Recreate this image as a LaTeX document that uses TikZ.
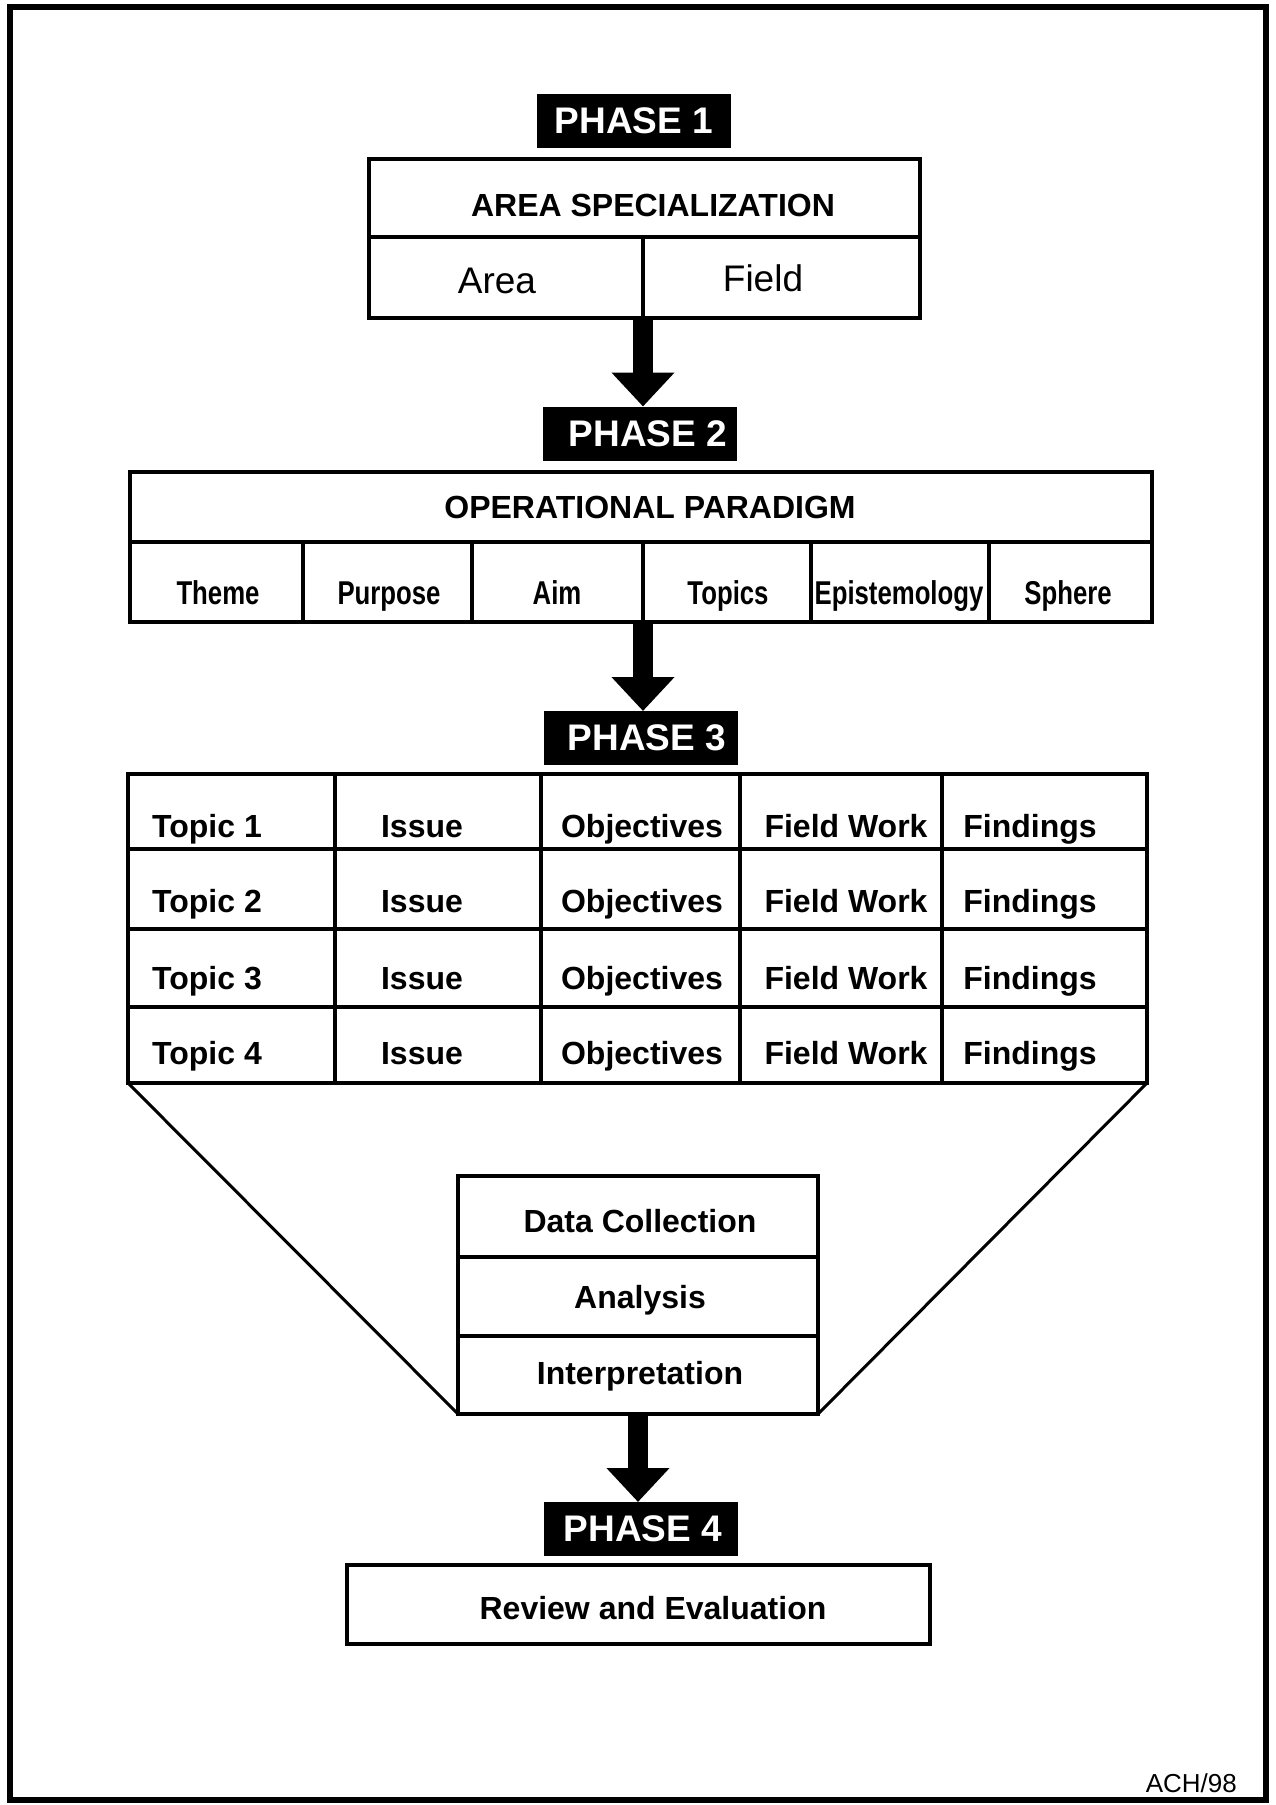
\documentclass[tikz,border=0pt]{standalone}
\usepackage{fontspec}
\setmainfont{Liberation Sans}
\newfontfamily\condbf{Liberation Sans Bold}[FakeStretch=0.78]
\usetikzlibrary{arrows.meta}

\tikzset{
  box/.style={draw, line width=3.5pt, rectangle, inner sep=0pt, outer sep=0pt},
  phase/.style={fill=black, text=white, inner sep=0pt, outer sep=0pt,
    minimum width=194pt, minimum height=54pt,
    font=\bfseries\fontsize{37}{41}\selectfont},
  title/.style={inner sep=0pt, font=\bfseries\fontsize{32}{38}\selectfont},
  plain/.style={inner sep=0pt, anchor=base, font=\fontsize{37}{42}\selectfont},
  narrowtext/.style={inner sep=0pt, anchor=base, font=\condbf\fontsize{33}{38}\selectfont},
  tabtext/.style={inner sep=0pt, anchor=base, font=\bfseries\fontsize{32}{37}\selectfont},
  bigarrow/.style={line width=20pt, -{Triangle[width=61pt,length=34pt]}},
  funnel/.style={line width=3pt, line join=miter},
}

\begin{document}
\begin{tikzpicture}[x=1pt,y=-1pt]
\useasboundingbox (0,0) rectangle (1276,1805);

% outer frame
\draw[line width=6pt] (10,7) rectangle (1266,1800);

% ---------- Phase 1 ----------
\node[phase] (phase1) at (634,121) {PHASE 1};
\node[box, minimum width=551pt, minimum height=78pt] (areaspec) at (644.5,198) {};
\node[title] (areaspec-t) at (653,205) {AREA SPECIALIZATION};
\node[box, minimum width=274pt, minimum height=81pt] (area) at (506,277.5) {};
\node[box, minimum width=277pt, minimum height=81pt] (field) at (781.5,277.5) {};
\node[plain] (area-t) at (497,293) {Area};
\node[plain] (field-t) at (763,291) {Field};

% ---------- Phase 2 ----------
\node[phase] (phase2) at (640,433.5) {\hspace*{16pt}PHASE 2};
\draw[bigarrow] (area.south east) -- (area.south east |- phase2.north);

\node[box, minimum width=1022pt, minimum height=70pt] (oppar) at (641,507) {};
\node[title] (oppar-t) at (650,507) {OPERATIONAL PARADIGM};
\foreach \n/\xa/\xb/\xt/\word in {theme/130/303/218/Theme, purpose/303/472/389/Purpose,
    aim/472/643/557/Aim, topics/643/811/728/Topics,
    episteme/811/989/899/Epistemology, sphere/989/1152/1068/Sphere} {
  \node[box, minimum width={\xb-\xa}, minimum height=80pt] (op-\n) at ({(\xa+\xb)/2},582) {};
  \node[narrowtext] (op-\n-t) at (\xt,604) {\word};
}

% ---------- Phase 3 ----------
\node[phase] (phase3) at (641,738) {\hspace*{12pt}PHASE 3};
\draw[bigarrow] (op-aim.south east) -- (op-aim.south east |- phase3.north);

\foreach \r/\ya/\yb/\yt in {1/774/849/837, 2/849/929/912, 3/929/1007/989, 4/1007/1083/1064} {
  \foreach \c/\xa/\xb in {1/128/335, 2/335/541, 3/541/740, 4/740/942, 5/942/1147} {
    \node[box, minimum width={\xb-\xa}, minimum height={\yb-\ya}] (tab-\r-\c) at ({(\xa+\xb)/2},{(\ya+\yb)/2}) {};
  }
  \node[tabtext, anchor=base west] (topic-\r) at (152,\yt) {Topic \r};
  \node[tabtext] (issue-\r) at (422,\yt) {Issue};
  \node[tabtext] (obj-\r) at (642,\yt) {Objectives};
  \node[tabtext] (fw-\r) at (846,\yt) {Field Work};
  \node[tabtext] (find-\r) at (1030,\yt) {Findings};
}

% research steps
\node[box, minimum width=360pt, minimum height=81pt] (collect) at (638,1216.5) {};
\node[box, minimum width=360pt, minimum height=79pt] (analysis) at (638,1296.5) {};
\node[box, minimum width=360pt, minimum height=78pt] (interp) at (638,1375) {};
\node[tabtext] (collect-t) at (640,1232) {Data Collection};
\node[tabtext] (analysis-t) at (640,1308) {Analysis};
\node[tabtext] (interp-t) at (640,1384) {Interpretation};

\draw[funnel] (tab-4-1.south west) -- (interp.south west);
\draw[funnel] (tab-4-5.south east) -- (interp.south east);

% ---------- Phase 4 ----------
\node[phase] (phase4) at (641,1529) {\hspace*{4pt}PHASE 4};
\draw[bigarrow] (interp.south) -- (interp.south |- phase4.north);

\node[box, minimum width=583pt, minimum height=79pt] (review) at (638.5,1604.5) {};
\node[tabtext] (review-t) at (653,1619) {Review and Evaluation};

% author mark
\node[inner sep=0pt, anchor=base east, font=\fontsize{26}{30}\selectfont] (mark) at (1237,1792) {ACH/98};
\end{tikzpicture}
\end{document}
